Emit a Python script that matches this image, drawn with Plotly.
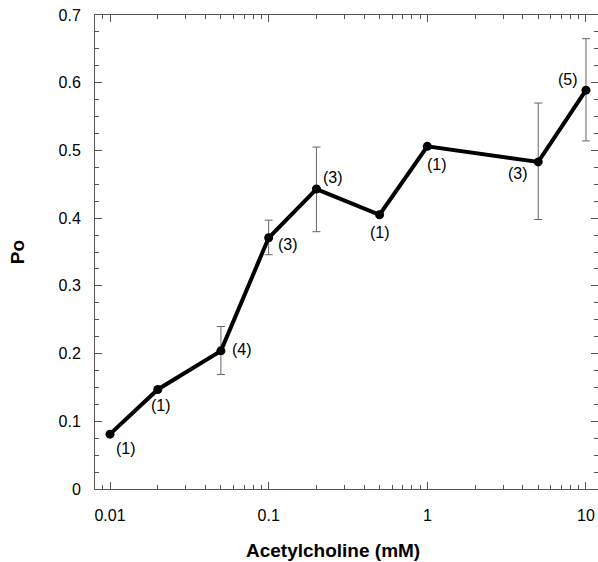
import numpy as np
import plotly.graph_objects as go

conc = [0.01, 0.02, 0.05, 0.1, 0.2, 0.5, 1, 5, 10]
po = [0.081, 0.147, 0.204, 0.371, 0.443, 0.405, 0.506, 0.483, 0.589]
err_plus = [0, 0, 0.036, 0.026, 0.062, 0, 0, 0.087, 0.076]
err_minus = [0, 0, 0.035, 0.025, 0.063, 0, 0, 0.085, 0.075]
n_labels = ["(1)", "(1)", "(4)", "(3)", "(3)", "(1)", "(1)", "(3)", "(5)"]
y_ticks = [0, 0.1, 0.2, 0.3, 0.4, 0.5, 0.6, 0.7]
x_ticks = [0.01, 0.1, 1, 10]
x_ticklabels = ["0.01", "0.1", "1", "10"]
x_title = "Acetylcholine (mM)"
y_title = "Po"

# label offsets in pixels (style)
label_dx = [16, 3, 21, 19, 17, 0, 10, -20, -18]
label_dy = [14, 16, -1, 7, -12, 18, 18, 12, -11]

FONT = "Liberation Sans, Arial, Helvetica, sans-serif"

fig = go.Figure()
fig.add_trace(go.Scatter(
    x=conc, y=po, mode="lines+markers",
    line=dict(color="black", width=4),
    marker=dict(color="black", size=9),
    error_y=dict(type="data", symmetric=False, array=err_plus, arrayminus=err_minus,
                 color="#666666", thickness=1, width=4),
    showlegend=False,
))

for xv, yv, t, dx, dy in zip(conc, po, n_labels, label_dx, label_dy):
    fig.add_annotation(x=np.log10(xv), y=yv, xref="x", yref="y", text=t,
                       showarrow=False, xshift=dx, yshift=-dy,
                       font=dict(family=FONT, size=16, color="black"))

# x-axis title (slightly left of plot centre, as in the reference)
fig.add_annotation(x=0.473, y=-0.129, xref="paper", yref="paper",
                   text=f"<b>{x_title}</b>", showarrow=False,
                   xanchor="center", yanchor="middle",
                   font=dict(family=FONT, size=19, color="black"))

axis_common = dict(showline=True, linecolor="#555555", linewidth=1, mirror="ticks",
                   ticks="inside", tickcolor="#555555", ticklen=7, tickwidth=1,
                   showgrid=False, zeroline=False,
                   tickfont=dict(family=FONT, size=16, color="black"))

fig.update_layout(
    width=598, height=562,
    margin=dict(l=95, r=0, t=15, b=73),
    paper_bgcolor="white", plot_bgcolor="white",
    xaxis=dict(type="log", range=[-2.0946, 1.0757],
               tickvals=x_ticks, ticktext=x_ticklabels,
               minor=dict(ticks="inside", ticklen=4, tickcolor="#555555", dtick="D1", showgrid=False),
               ticklabelstandoff=12,
               **axis_common),
    yaxis=dict(range=[0, 0.7], tickvals=y_ticks,
               ticktext=[("0" if v == 0 else f"{v:.1f}") for v in y_ticks],
               minor=dict(ticks="inside", ticklen=4, tickcolor="#555555", dtick=0.025, showgrid=False),
               ticklabelstandoff=10,
               title=dict(text=f"<b>{y_title}</b>", standoff=28,
                          font=dict(family=FONT, size=19, color="black")),
               **axis_common),
)

fig.write_html("out.html")
